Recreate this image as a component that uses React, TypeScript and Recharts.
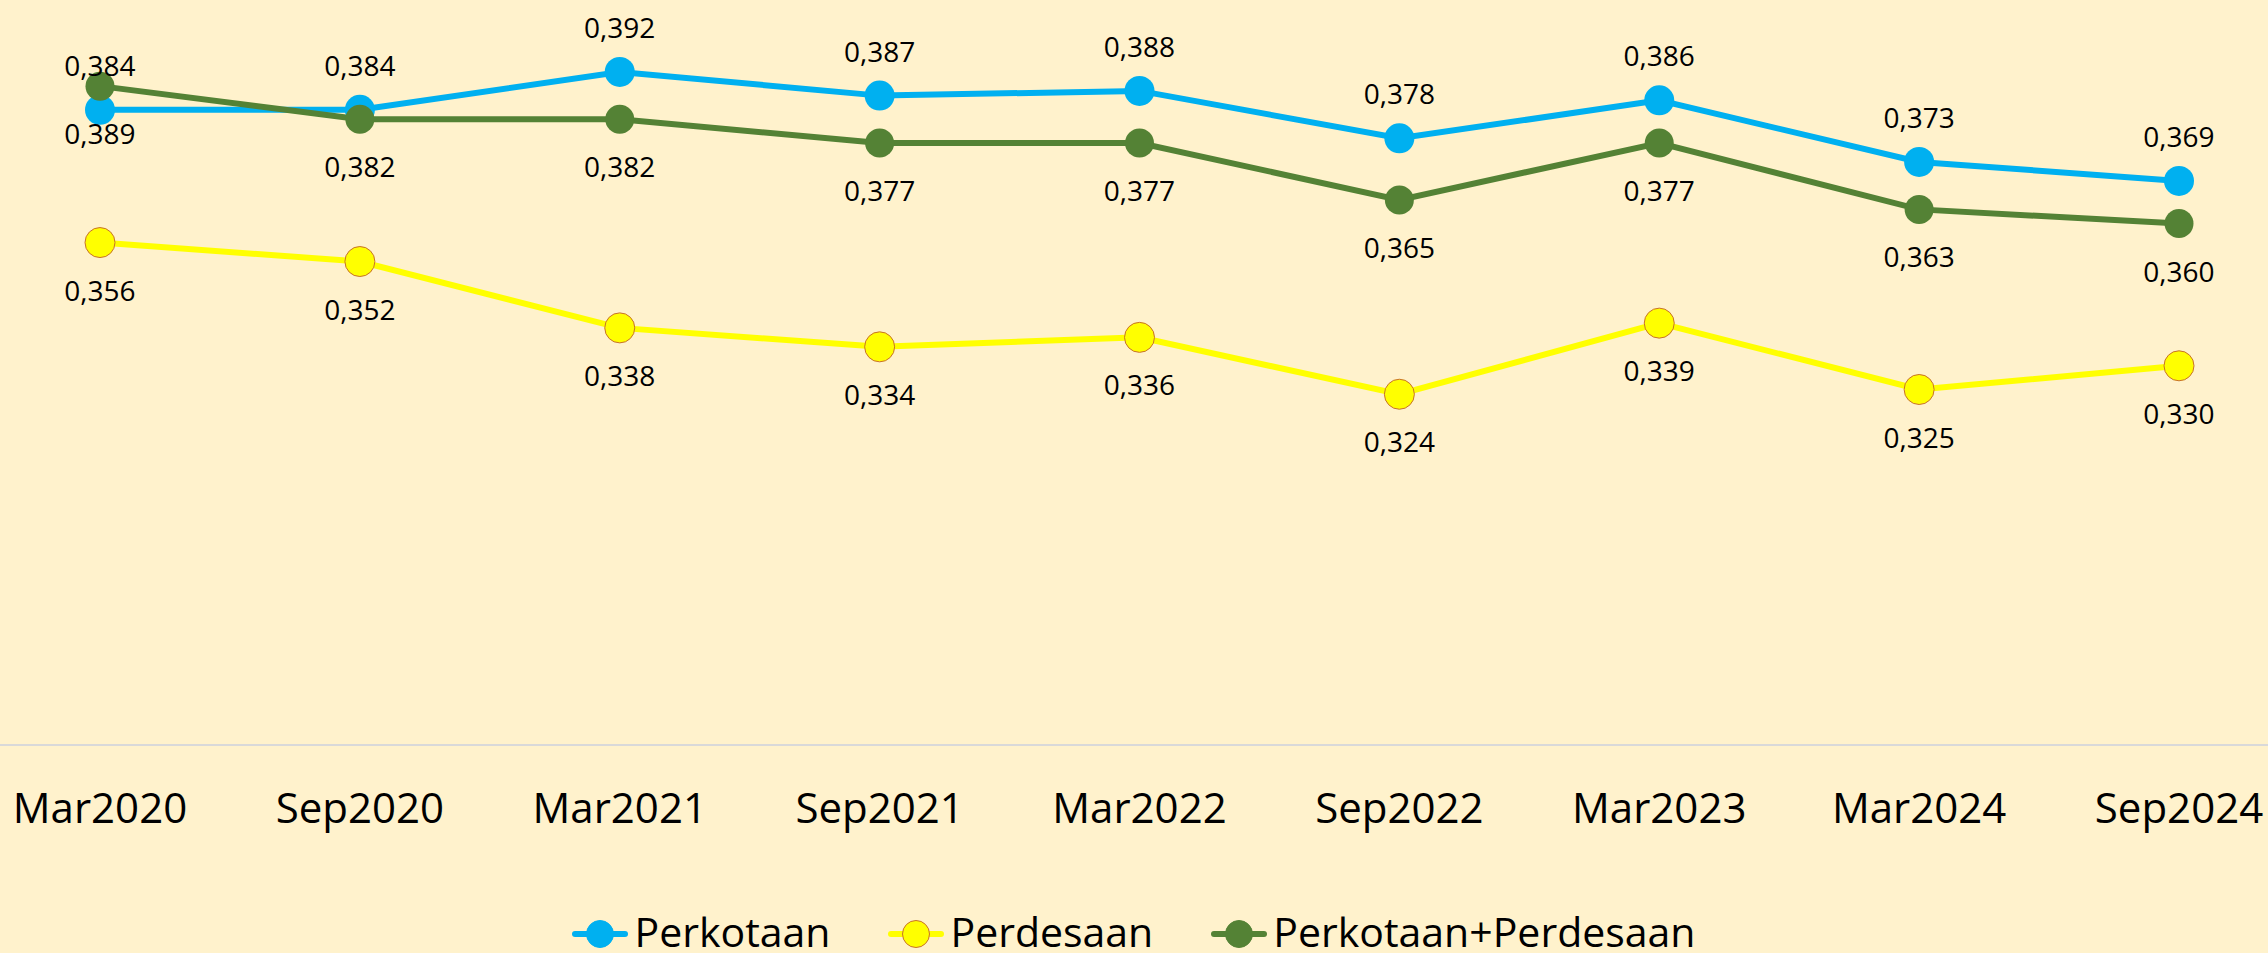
import React from 'react';
import { LineChart, Line, XAxis, YAxis, Legend, LabelList } from 'recharts';

const categories = ['Mar2020', 'Sep2020', 'Mar2021', 'Sep2021', 'Mar2022', 'Sep2022', 'Mar2023', 'Mar2024', 'Sep2024'];
const perkotaan = [0.384, 0.384, 0.392, 0.387, 0.388, 0.378, 0.386, 0.373, 0.369];
const perdesaan = [0.356, 0.352, 0.338, 0.334, 0.336, 0.324, 0.339, 0.325, 0.33];
const gabungan = [0.389, 0.382, 0.382, 0.377, 0.377, 0.365, 0.377, 0.363, 0.36];
const seriesNames = ['Perkotaan', 'Perdesaan', 'Perkotaan+Perdesaan'];

const data = categories.map((c, i) => ({
  cat: c,
  kota: perkotaan[i],
  desa: perdesaan[i],
  total: gabungan[i],
}));

const FONT = '"Open Sans", sans-serif';
const W = 2268;
const H = 953;
const BLUE = '#00B0F0';
const YELLOW = '#FFFF00';
const YELLOW_BORDER = '#C8702A';
const GREEN = '#548235';

const fmt = (v: number) => v.toFixed(3).replace('.', ',');

const makeLabel = (dy: number) => (props: any) => {
  const { x, y, value } = props;
  if (x == null || y == null || value == null) return null;
  return (
    <text x={x} y={y + dy} textAnchor="middle" fontFamily={FONT} fontSize={28} fill="#000000">
      {fmt(Number(value))}
    </text>
  );
};

const legendItems = [
  { name: seriesNames[0], line: BLUE, fill: BLUE, border: BLUE },
  { name: seriesNames[1], line: YELLOW, fill: YELLOW, border: YELLOW_BORDER },
  { name: seriesNames[2], line: GREEN, fill: GREEN, border: GREEN },
];

const renderLegend = () => (
  <div style={{ display: 'flex', justifyContent: 'center', height: 60, width: W }}>
    {legendItems.map((it, i) => (
      <div key={it.name} style={{ display: 'flex', alignItems: 'flex-start', marginLeft: i ? 58 : 0 }}>
        <svg width={56} height={28} style={{ marginTop: 27, display: 'block' }}>
          <line x1={3} x2={53} y1={14} y2={14} stroke={it.line} strokeWidth={6} strokeLinecap="round" />
          <circle cx={28} cy={14} r={13.5} fill={it.fill} stroke={it.border} strokeWidth={1} />
        </svg>
        <span
          style={{
            marginLeft: 6,
            fontSize: 41,
            lineHeight: '41px',
            marginTop: 18,
            fontFamily: FONT,
            color: '#000000',
            whiteSpace: 'nowrap',
          }}
        >
          {it.name}
        </span>
      </div>
    ))}
  </div>
);

export default function App() {
  return (
    <div
      style={{
        position: 'absolute',
        left: 0,
        top: 0,
        width: W,
        height: H,
        overflow: 'hidden',
        background: '#FFF2CC',
      }}
    >
      <LineChart width={W} height={H} data={data} margin={{ top: 34, right: 0, bottom: 0, left: 0 }}>
        <XAxis
          dataKey="cat"
          padding={{ left: 100, right: 89 }}
          axisLine={{ stroke: '#D9D9D9', strokeWidth: 2 }}
          tickLine={false}
          tickSize={0}
          tickMargin={48}
          height={148}
          interval={0}
          tick={{ fill: '#000000', fontSize: 42, fontFamily: FONT }}
        />
        <YAxis hide domain={[0.25, 0.4]} />
        <Legend verticalAlign="bottom" height={60} content={renderLegend} />
        <Line
          type="linear"
          dataKey="kota"
          name={seriesNames[0]}
          stroke={BLUE}
          strokeWidth={6}
          dot={{ r: 15, fill: BLUE, stroke: BLUE, strokeWidth: 0 }}
          activeDot={false}
          isAnimationActive={false}
        >
          <LabelList dataKey="kota" content={makeLabel(-34)} />
        </Line>
        <Line
          type="linear"
          dataKey="desa"
          name={seriesNames[1]}
          stroke={YELLOW}
          strokeWidth={6}
          dot={{ r: 15, fill: YELLOW, stroke: YELLOW_BORDER, strokeWidth: 1 }}
          activeDot={false}
          isAnimationActive={false}
        >
          <LabelList dataKey="desa" content={makeLabel(58)} />
        </Line>
        <Line
          type="linear"
          dataKey="total"
          name={seriesNames[2]}
          stroke={GREEN}
          strokeWidth={6}
          dot={{ r: 14.5, fill: GREEN, stroke: GREEN, strokeWidth: 0 }}
          activeDot={false}
          isAnimationActive={false}
        >
          <LabelList dataKey="total" content={makeLabel(58)} />
        </Line>
      </LineChart>
    </div>
  );
}
